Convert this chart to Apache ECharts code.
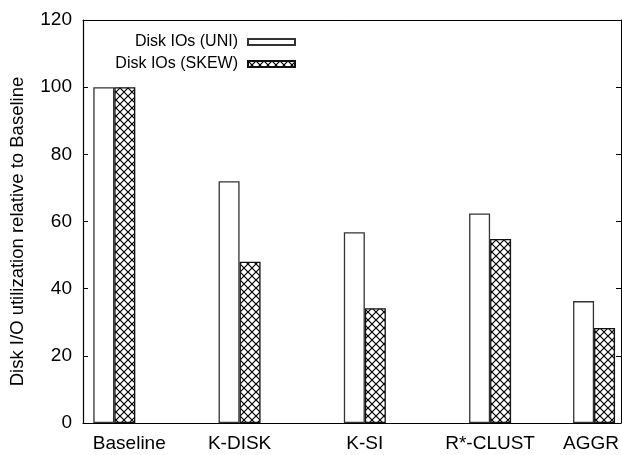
<!DOCTYPE html>
<html>
<head>
<meta charset="utf-8">
<script src="https://cdn.jsdelivr.net/npm/echarts@6/dist/echarts.min.js"></script>
<style>
  html, body { margin: 0; padding: 0; background: #fff; }
  #chart { width: 622px; height: 455px; }
</style>
</head>
<body>
<div id="chart"></div>
<script>
// Methods compared, and where each group sits along the x axis
const categories = ['Baseline', 'K-DISK', 'K-SI', 'R*-CLUST', 'AGGR'];
const groupPos = [0, 1, 2, 3, 3.83];

// Disk I/O utilization relative to Baseline (%)
const uniValues = [100, 72, 56.8, 62.4, 36.3];
const skewValues = [100, 48, 34.2, 54.8, 28.3];

const yTicks = [0, 20, 40, 60, 80, 100, 120];

const FONT = 'Liberation Sans, Arial, Helvetica, sans-serif';

// Cross-hatch fill for the SKEW bars
function makeHatch() {
  const s = 8;
  const c = document.createElement('canvas');
  c.width = s; c.height = s;
  const g = c.getContext('2d');
  g.fillStyle = '#fff';
  g.fillRect(0, 0, s, s);
  g.strokeStyle = '#000';
  g.lineWidth = 1.2;
  g.beginPath();
  g.moveTo(-1, -1); g.lineTo(s + 1, s + 1);
  g.moveTo(s + 1, -1); g.lineTo(-1, s + 1);
  g.stroke();
  return c;
}
const hatch = { image: makeHatch(), repeat: 'repeat' };

const chart = echarts.init(document.getElementById('chart'), null, { renderer: 'canvas' });

const pairs = (vals) => vals.map((v, i) => [groupPos[i], v]);

const frameAxis = {
  splitLine: { show: false },
  axisLabel: { show: false }
};

chart.setOption({
  animation: false,
  backgroundColor: '#fff',
  textStyle: { fontFamily: FONT },
  grid: { left: 82, right: 1, top: 20, bottom: 32, containLabel: false },
  legend: {
    orient: 'vertical',
    align: 'right',
    right: 321,
    top: 29,
    itemWidth: 47,
    itemHeight: 6,
    itemGap: 6,
    icon: 'rect',
    textStyle: { fontFamily: FONT, fontSize: 16, color: '#000', padding: [0, 5, 0, 0] },
    data: ['Disk IOs (UNI)', 'Disk IOs (SKEW)']
  },
  xAxis: [{
    type: 'value',
    min: -0.25,
    max: 4.045,
    splitLine: { show: false },
    axisLine: { show: true, onZero: false, lineStyle: { color: '#000', width: 1.2 } },
    axisTick: { show: false },
    axisLabel: {
      customValues: groupPos,
      margin: 11,
      fontFamily: FONT,
      fontSize: 19,
      color: '#000',
      formatter: function (v) {
        const i = groupPos.indexOf(v);
        if (i === 0) return '{shiftR|' + categories[i] + '}';
        if (i === categories.length - 1) return '{shiftL|' + categories[i] + '}';
        return categories[i] || '';
      },
      rich: {
        shiftR: { fontFamily: FONT, fontSize: 19, color: '#000', padding: [0, 0, 0, 30] },
        shiftL: { fontFamily: FONT, fontSize: 19, color: '#000', padding: [0, 6, 0, 0] }
      }
    }
  }, Object.assign({
    type: 'value',
    position: 'top',
    min: -0.25,
    max: 4.045,
    axisLine: { show: true, onZero: false, lineStyle: { color: '#000', width: 1 } },
    axisTick: { show: false }
  }, frameAxis)],
  yAxis: [{
    type: 'value',
    min: 0,
    max: 120,
    interval: 20,
    name: 'Disk I/O utilization relative to Baseline',
    nameLocation: 'middle',
    nameGap: 56,
    nameTextStyle: { fontFamily: FONT, fontSize: 18.5, color: '#000', padding: [0, 20, 0, 0] },
    splitLine: { show: false },
    axisLine: { show: true, onZero: false, lineStyle: { color: '#000', width: 1.2 } },
    axisTick: { show: true, inside: true, length: 5, lineStyle: { color: '#000' } },
    axisLabel: {
      margin: 11,
      fontFamily: FONT,
      fontSize: 19,
      color: '#000',
      customValues: yTicks
    }
  }, Object.assign({
    type: 'value',
    position: 'right',
    min: 0,
    max: 120,
    interval: 20,
    axisLine: { show: true, onZero: false, lineStyle: { color: '#000', width: 1 } },
    axisTick: { show: true, inside: true, length: 5, lineStyle: { color: '#000' } }
  }, frameAxis)],
  series: [{
    name: 'Disk IOs (UNI)',
    type: 'bar',
    xAxisIndex: 0,
    yAxisIndex: 0,
    barWidth: 21,
    barGap: '0%',
    data: pairs(uniValues),
    itemStyle: { color: '#fff', borderColor: '#333', borderWidth: 1.3 }
  }, {
    name: 'Disk IOs (SKEW)',
    type: 'bar',
    xAxisIndex: 0,
    yAxisIndex: 0,
    barWidth: 21,
    barGap: '0%',
    data: pairs(skewValues),
    itemStyle: { color: hatch, borderColor: '#111', borderWidth: 1.3 }
  }]
});
</script>
</body>
</html>
